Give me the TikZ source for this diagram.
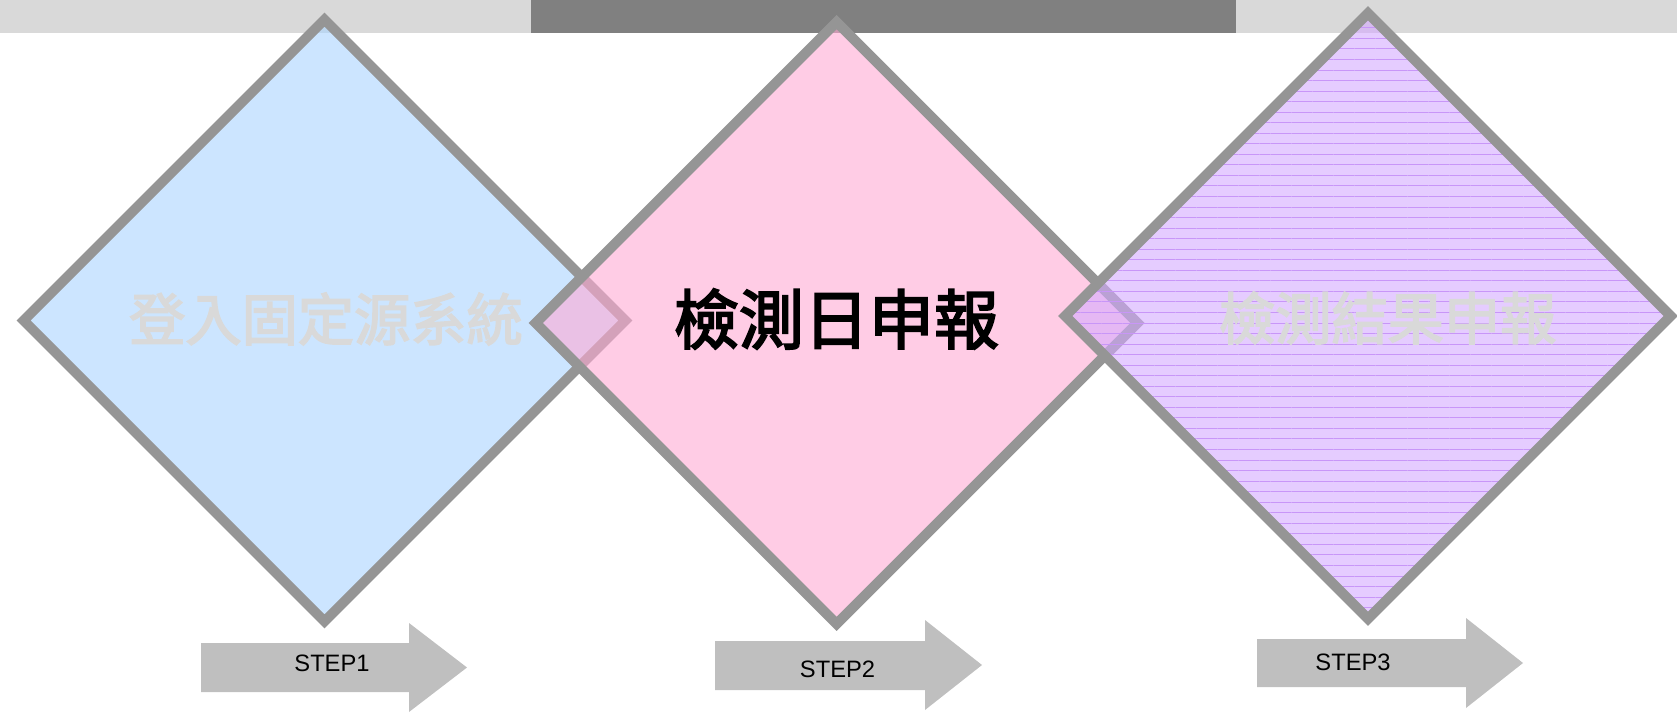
\documentclass[tikz,border=0pt]{standalone}
\usepackage{fontspec}
\setmainfont{Liberation Sans}
\newfontfamily\cjk[FakeBold=3]{Noto Sans CJK TC}
\usetikzlibrary{shapes.geometric,patterns.meta}

\definecolor{barlight}{HTML}{D9D9D9}
\definecolor{bardark}{HTML}{808080}
\definecolor{rimgray}{HTML}{959595}
\definecolor{loginblue}{RGB}{170,212,255}
\definecolor{datepink}{RGB}{255,170,212}
\definecolor{resultlilac}{RGB}{212,170,255}
\definecolor{hatchlilac}{RGB}{200,150,248}
\definecolor{arrowgray}{HTML}{BFBFBF}
\definecolor{fadedtext}{HTML}{D9D9D9}

\begin{document}
\begin{tikzpicture}[
    x=0.02cm, y=-0.02cm,
    stage/.style={diamond, aspect=1, draw=rimgray, line width=0.2cm, minimum width=12.12cm, minimum height=12.12cm, inner sep=0pt, fill opacity=0.6},
    title/.style={font=\cjk\fontsize{32pt}{36pt}\selectfont, text=fadedtext, inner sep=0pt},
    bigtitle/.style={font=\cjk\fontsize{37pt}{40pt}\selectfont, text=black, inner sep=0pt},
    steparrow/.style={fill=arrowgray},
    steplabel/.style={font=\fontsize{13.5pt}{16pt}\selectfont, text=black, inner sep=0pt}
]
\useasboundingbox (0,0) rectangle (1677,713);

% Barra superiore
\fill[barlight] (0,0) rectangle (531,33);
\fill[bardark] (531,0) rectangle (1236,33);
\fill[barlight] (1236,0) rectangle (1677,33);

% Rombi
\node[stage, fill=loginblue] (login) at (324.5,320.5) {};
\node[stage, fill=datepink] (date) at (836.6,323) {};
\node[stage, preaction={fill=resultlilac, fill opacity=0.6}, pattern={Lines[angle=0,distance=6pt,line width=0.5pt]}, pattern color=hatchlilac] (result) at (1368,316) {};

% Testi
\node[title] (logintext) at (326,319) {登入固定源系統};
\node[bigtitle] (datetext) at (836.4,319) {檢測日申報};
\node[title] (resulttext) at (1387.7,318) {檢測結果申報};

% Frecce
\fill[steparrow] (201,643) -- (409,643) -- (409,623) -- (467,667.5) -- (409,712) -- (409,692) -- (201,692) -- cycle;
\fill[steparrow] (715,641) -- (925,641) -- (925,620) -- (982,665) -- (925,710) -- (925,690) -- (715,690) -- cycle;
\fill[steparrow] (1257,639) -- (1466,639) -- (1466,618) -- (1523,663) -- (1466,708) -- (1466,687) -- (1257,687) -- cycle;

\node[steplabel] (step1) at (332,663) {STEP1};
\node[steplabel] (step2) at (837.5,669) {STEP2};
\node[steplabel] (step3) at (1353,662) {STEP3};

\end{tikzpicture}
\end{document}
